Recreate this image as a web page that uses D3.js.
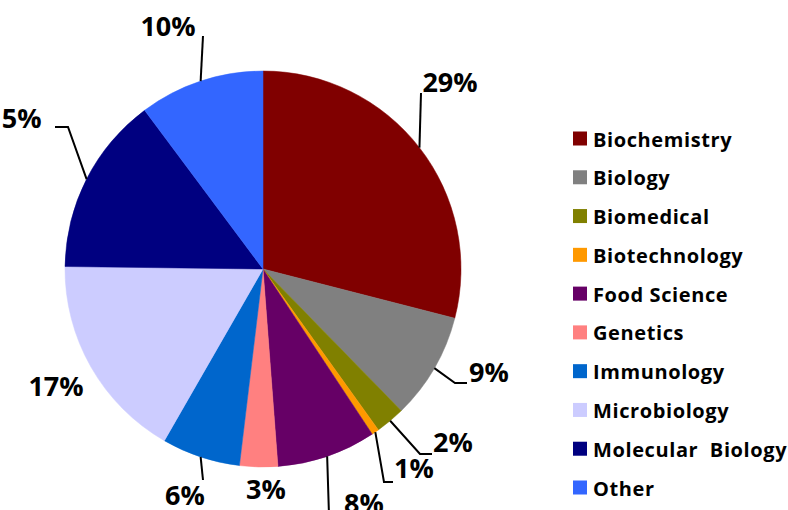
<!DOCTYPE html>
<html><head><meta charset="utf-8">
<script src="https://cdn.jsdelivr.net/npm/d3@7/dist/d3.min.js"></script>
<style>
html,body{margin:0;padding:0;background:#fff;}
svg{display:block;}
text{font-family:"Open Sans",sans-serif;font-weight:bold;fill:#000;}
</style></head>
<body>
<svg id="chart" width="788" height="510"></svg>
<script>
// ---- data ----
const categories = ["Biochemistry","Biology","Biomedical","Biotechnology","Food Science","Genetics","Immunology","Microbiology","Molecular  Biology","Other"];
const values = [29.0, 8.7, 2.4, 0.6, 8.1, 3.1, 6.4, 16.9, 14.6, 10.2];
const pctLabels = ["29%","9%","2%","1%","8%","3%","6%","17%","15%","10%"];
const colors = ["#800000","#808080","#808000","#FF9900","#660066","#FF8080","#0066CC","#CCCCFF","#000080","#3366FF"];

// ---- layout (label placement, separate from data) ----
const labelPos = [
  {x:450,y:92, leader:[[421,93]]},
  {x:489,y:382, leader:[[455,383],[467,383]]},
  {x:453,y:452, leader:[[420,454],[432,454]]},
  {x:414,y:478, leader:[[384,482],[393,482]]},
  {x:364,y:513, leader:[[329,515]]},
  {x:266,y:499, leader:null},
  {x:185,y:505, leader:[[203,480]]},
  {x:56,y:396, leader:null},
  {x:14,y:128, leader:[[68,127],[55,127]]},
  {x:168,y:36, leader:[[203,36]]}
];

const svg = d3.select("#chart");
const cx = 263, cy = 269, r = 198;

const pie = d3.pie().sort(null).value(d => d.v).startAngle(0).endAngle(2*Math.PI);
const data = categories.map((c,i)=>({c, v:values[i], col:colors[i], lab:pctLabels[i], i}));
const arcs = pie(data);
const arc = d3.arc().innerRadius(0).outerRadius(r);

const g = svg.append("g").attr("transform",`translate(${cx},${cy})`);
g.selectAll("path.slice").data(arcs).enter().append("path")
  .attr("class","slice")
  .attr("d", arc)
  .attr("fill", d => d.data.col)
  .attr("stroke", d => d.data.col)
  .attr("stroke-width", 0.5);

// leaders
const line = d3.line();
arcs.forEach((a,i) => {
  const lp = labelPos[i];
  if (lp.leader) {
    const mid = (a.startAngle + a.endAngle)/2;
    const start = [cx + r*Math.sin(mid), cy - r*Math.cos(mid)];
    svg.append("path")
      .attr("d", line([start, ...lp.leader]))
      .attr("fill","none").attr("stroke","#000").attr("stroke-width",2);
  }
  svg.append("text")
    .attr("x", lp.x).attr("y", lp.y)
    .attr("text-anchor","middle")
    .style("font-size","27px")
    .text(a.data.lab);
});

// legend
const leg = svg.append("g");
const legY = d3.scalePoint().domain(categories).range([139, 488]);
categories.forEach((c,i) => {
  const y = legY(c);
  leg.append("rect").attr("x",573).attr("y",y-7.5).attr("width",14).attr("height",14).attr("fill",colors[i]);
  leg.append("text").attr("x",593).attr("y",y+7.5)
    .attr("xml:space","preserve")
    .style("white-space","pre")
    .style("font-size","20px")
    .style("letter-spacing","0.6px")
    .text(c);
});
</script>
</body></html>
